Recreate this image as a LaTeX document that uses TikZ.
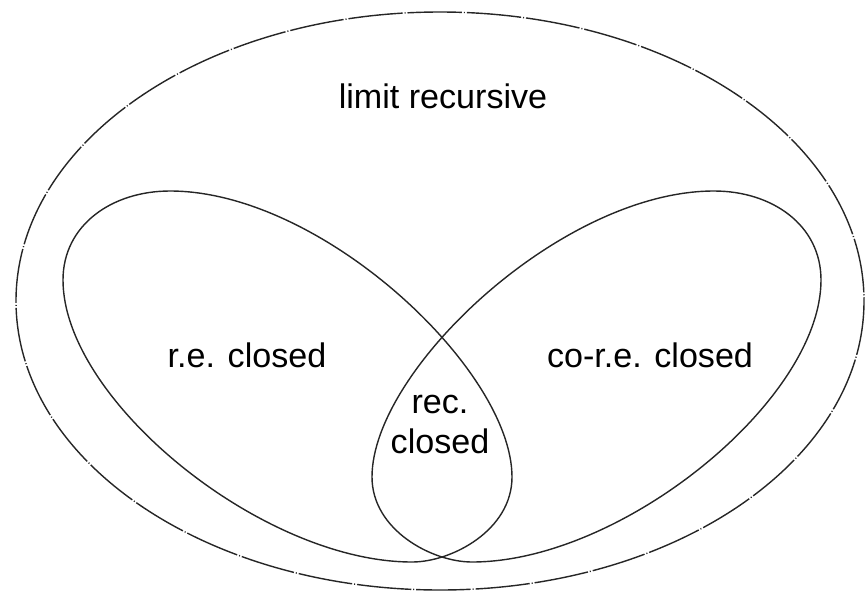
\documentclass[tikz,border=0pt]{standalone}
\usepackage{fontspec}
\setmainfont{Liberation Sans}
\usetikzlibrary{positioning}
\begin{document}
\begin{tikzpicture}[
    x=0.02cm,y=-0.02cm,
    every node/.style={align=center,inner sep=0pt},
    region/.style={font=\fontsize{19.4}{22.7}\selectfont,anchor=base},
    outline/.style={line width=0.8pt,black!85},
    setline/.style={outline,dash pattern=on 31pt off 1.1pt on 0.6pt off 1.1pt}
  ]
  \useasboundingbox (0,0) rectangle (865,592);
  % limit recursive sets
  \draw[setline] (440,301) ellipse [x radius=424, y radius=289];
  % r.e. closed (left) and co-r.e. closed (right), mirrored about x=442
  \foreach \side in {1,-1}{
    \begin{scope}[shift={(442,0)},xscale=\side]
      \draw[outline] (-272,191) .. controls (-120,191) and (70,370) .. (70,477)
        .. controls (70,530) and (10,562) .. (-30,562)
        .. controls (-180,562) and (-379,400) .. (-379,280)
        .. controls (-379,225) and (-330,191) .. (-272,191) -- cycle;
    \end{scope}
  }
  \node[region] (lim) at (443,108) {limit recursive};
  \node[region] (re) at (247,367) {r.e. closed};
  \node[region] (core) at (650,367) {co-r.e. closed};
  \node[region] (rec) at (440,453) {rec.\\closed};
\end{tikzpicture}
\end{document}
